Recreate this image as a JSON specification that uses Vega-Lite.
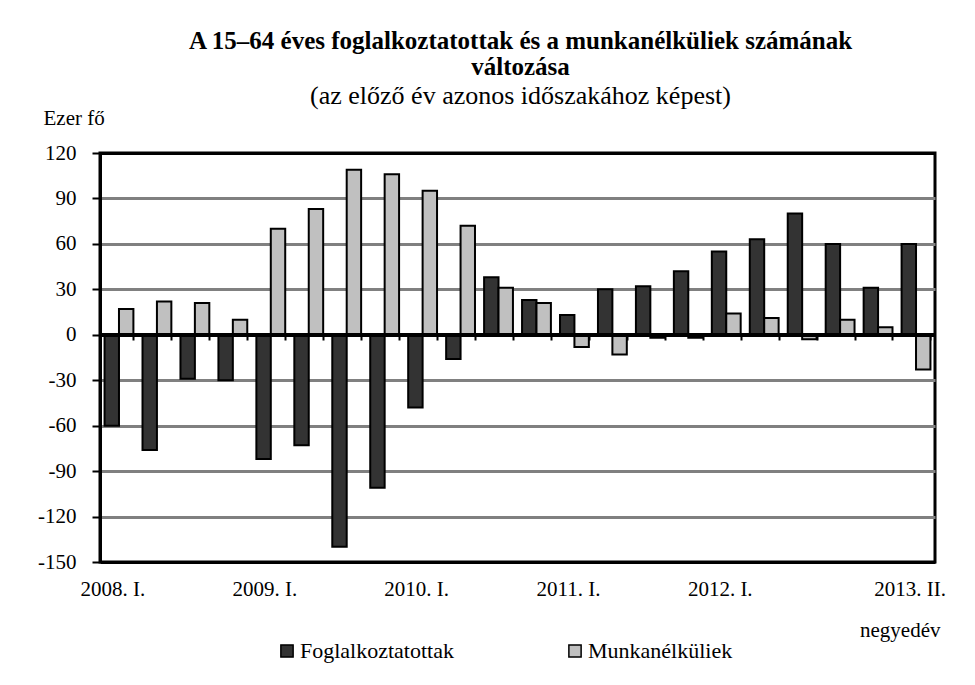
{
  "$schema": "https://vega.github.io/schema/vega-lite/v6.json",
  "autosize": {"type": "none"},
  "padding": {"left": 100, "top": 153, "right": 40, "bottom": 123},
  "width": 835,
  "height": 409,
  "background": "white",
  "title": {
    "text": ["A 15–64 éves foglalkoztatottak és a munkanélküliek számának", "változása"],
    "subtitle": "(az előző év azonos időszakához képest)",
    "frame": "group",
    "anchor": "middle",
    "offset": -2,
    "font": "Liberation Serif",
    "fontSize": 25,
    "fontWeight": "bold",
    "color": "black",
    "lineHeight": 26,
    "subtitleFont": "Liberation Serif",
    "subtitleFontSize": 26,
    "subtitleColor": "black",
    "subtitlePadding": 3,
    "dx": 3
  },
  "config": {
    "view": {"stroke": "black", "strokeWidth": 3},
    "font": "Liberation Serif"
  },
  "data": {
    "values": [
      {"q": "2008. I.", "s": "Foglalkoztatottak", "v": -60},
      {"q": "2008. II.", "s": "Foglalkoztatottak", "v": -76},
      {"q": "2008. III.", "s": "Foglalkoztatottak", "v": -29},
      {"q": "2008. IV.", "s": "Foglalkoztatottak", "v": -30},
      {"q": "2009. I.", "s": "Foglalkoztatottak", "v": -82},
      {"q": "2009. II.", "s": "Foglalkoztatottak", "v": -73},
      {"q": "2009. III.", "s": "Foglalkoztatottak", "v": -140},
      {"q": "2009. IV.", "s": "Foglalkoztatottak", "v": -101},
      {"q": "2010. I.", "s": "Foglalkoztatottak", "v": -48},
      {"q": "2010. II.", "s": "Foglalkoztatottak", "v": -16},
      {"q": "2010. III.", "s": "Foglalkoztatottak", "v": 38},
      {"q": "2010. IV.", "s": "Foglalkoztatottak", "v": 23},
      {"q": "2011. I.", "s": "Foglalkoztatottak", "v": 13},
      {"q": "2011. II.", "s": "Foglalkoztatottak", "v": 30},
      {"q": "2011. III.", "s": "Foglalkoztatottak", "v": 32},
      {"q": "2011. IV.", "s": "Foglalkoztatottak", "v": 42},
      {"q": "2012. I.", "s": "Foglalkoztatottak", "v": 55},
      {"q": "2012. II.", "s": "Foglalkoztatottak", "v": 63},
      {"q": "2012. III.", "s": "Foglalkoztatottak", "v": 80},
      {"q": "2012. IV.", "s": "Foglalkoztatottak", "v": 60},
      {"q": "2013. I.", "s": "Foglalkoztatottak", "v": 31},
      {"q": "2013. II.", "s": "Foglalkoztatottak", "v": 60},
      {"q": "2008. I.", "s": "Munkanélküliek", "v": 17},
      {"q": "2008. II.", "s": "Munkanélküliek", "v": 22},
      {"q": "2008. III.", "s": "Munkanélküliek", "v": 21},
      {"q": "2008. IV.", "s": "Munkanélküliek", "v": 10},
      {"q": "2009. I.", "s": "Munkanélküliek", "v": 70},
      {"q": "2009. II.", "s": "Munkanélküliek", "v": 83},
      {"q": "2009. III.", "s": "Munkanélküliek", "v": 109},
      {"q": "2009. IV.", "s": "Munkanélküliek", "v": 106},
      {"q": "2010. I.", "s": "Munkanélküliek", "v": 95},
      {"q": "2010. II.", "s": "Munkanélküliek", "v": 72},
      {"q": "2010. III.", "s": "Munkanélküliek", "v": 31},
      {"q": "2010. IV.", "s": "Munkanélküliek", "v": 21},
      {"q": "2011. I.", "s": "Munkanélküliek", "v": -8},
      {"q": "2011. II.", "s": "Munkanélküliek", "v": -13},
      {"q": "2011. III.", "s": "Munkanélküliek", "v": -2},
      {"q": "2011. IV.", "s": "Munkanélküliek", "v": -2},
      {"q": "2012. I.", "s": "Munkanélküliek", "v": 14},
      {"q": "2012. II.", "s": "Munkanélküliek", "v": 11},
      {"q": "2012. III.", "s": "Munkanélküliek", "v": -3},
      {"q": "2012. IV.", "s": "Munkanélküliek", "v": 10},
      {"q": "2013. I.", "s": "Munkanélküliek", "v": 5},
      {"q": "2013. II.", "s": "Munkanélküliek", "v": -23}
    ]
  },
  "resolve": {"axis": {"x": "independent"}},
  "layer": [
    {
      "mark": {"type": "bar", "stroke": "black", "strokeWidth": 2},
      "encoding": {
        "x": {
          "field": "q",
          "type": "nominal",
          "sort": null,
          "scale": {"paddingInner": 0.24, "paddingOuter": 0.12},
          "axis": {
            "values": ["2008. I.", "2009. I.", "2010. I.", "2011. I.", "2012. I.", "2013. II."],
            "labelAngle": 0,
            "labelFont": "Liberation Serif",
            "labelFontSize": 21,
            "labelColor": "black",
            "labelPadding": 16,
            "labelOffset": -6,
            "ticks": false,
            "domain": false,
            "title": "negyedév",
            "titleFont": "Liberation Serif",
            "titleFontSize": 21,
            "titleFontWeight": "normal",
            "titleColor": "black",
            "titleAnchor": "end",
            "titleAlign": "right",
            "titleBaseline": "middle",
            "titleX": 840,
            "titleY": 68
          }
        },
        "xOffset": {"field": "s", "type": "nominal"},
        "y": {
          "field": "v",
          "type": "quantitative",
          "scale": {"domain": [-150, 120], "nice": false},
          "axis": {
            "values": [-150, -120, -90, -60, -30, 0, 30, 60, 90, 120],
            "labelExpr": "datum.value < 0 ? '-' + abs(datum.value) : '' + datum.value",
            "grid": true,
            "gridColor": {"condition": {"test": "datum.value == 120 || datum.value == -150 || datum.value == 0", "value": "black"}, "value": "#808080"},
            "gridWidth": 3,
            "gridOpacity": 1,
            "domainColor": "black",
            "domainWidth": 3,
            "tickColor": "black",
            "tickWidth": 2,
            "tickSize": 8,
            "labelFont": "Liberation Serif",
            "labelFontSize": 21,
            "labelColor": "black",
            "labelPadding": 16,
            "title": "Ezer fő",
            "titleFont": "Liberation Serif",
            "titleFontSize": 21,
            "titleFontWeight": "normal",
            "titleColor": "black",
            "titleAngle": 0,
            "titleAlign": "left",
            "titleBaseline": "middle",
            "titleX": -57,
            "titleY": -35
          }
        },
        "color": {
          "field": "s",
          "type": "nominal",
          "scale": {"domain": ["Foglalkoztatottak", "Munkanélküliek"], "range": ["#333333", "#c0c0c0"]},
          "legend": {
            "title": null,
            "orient": "none",
            "direction": "horizontal",
            "legendX": 176,
            "legendY": 487,
            "columnPadding": 110,
            "symbolType": "square",
            "symbolSize": 150,
            "symbolStrokeColor": "black",
            "symbolStrokeWidth": 1.5,
            "symbolOpacity": 1,
            "labelFont": "Liberation Serif",
            "labelFontSize": 22,
            "labelColor": "black",
            "labelOffset": 2
          }
        }
      }
    },
    {
      "mark": {"type": "rule", "color": "black", "strokeWidth": 3},
      "encoding": {"y": {"datum": 0}}
    },
    {
      "mark": {"type": "point", "opacity": 0},
      "encoding": {
        "x": {
          "field": "q",
          "type": "nominal",
          "sort": null,
          "axis": {
            "orient": "bottom",
            "offset": -227,
            "labels": false,
            "domain": false,
            "ticks": true,
            "tickBand": "extent",
            "tickSize": 5,
            "tickWidth": 2,
            "tickColor": "black",
            "title": null
          }
        },
        "y": {"datum": 0}
      }
    }
  ]
}
